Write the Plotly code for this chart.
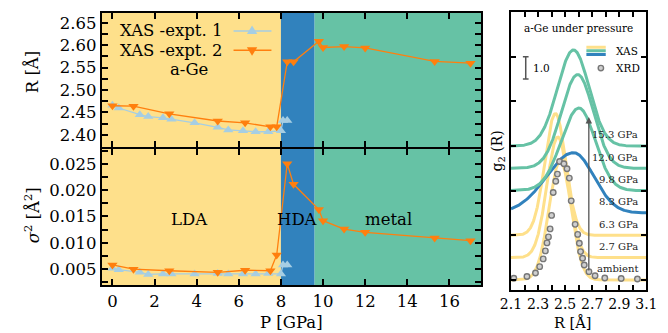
import numpy as np
import plotly.graph_objects as go

FONT = "DejaVu Serif"

# ---------------- left panels: XAS results vs pressure ----------------
p_expt1 = [0.0, 0.3, 1.3, 1.7, 2.4, 2.8, 3.9, 5.0, 5.5, 6.2, 6.8, 7.4, 8.0, 8.1, 8.3]
r_expt1 = [2.466, 2.460, 2.445, 2.441, 2.438, 2.435, 2.427, 2.417, 2.411, 2.409, 2.407, 2.407, 2.409, 2.432, 2.432]
s_expt1 = [0.0052, 0.0049, 0.0044, 0.0040, 0.0041, 0.0041, 0.0041, 0.0042, 0.0041, 0.0041, 0.0041, 0.0042, 0.0041, 0.0058, 0.0058]

p_expt2 = [0.0, 1.0, 2.7, 5.0, 6.3, 7.5, 7.8, 8.3, 8.6, 9.8, 10.0, 11.0, 12.0, 15.3, 17.0]
r_expt2 = [2.465, 2.464, 2.447, 2.431, 2.427, 2.418, 2.418, 2.563, 2.563, 2.609, 2.595, 2.597, 2.594, 2.564, 2.560]
s_expt2 = [0.0058, 0.0050, 0.0047, 0.0044, 0.0048, 0.0047, 0.0077, 0.0250, 0.0211, 0.0163, 0.0142, 0.0126, 0.0120, 0.0109, 0.0104]

phase_edges = [-0.5, 8.0, 9.6, 17.5]
phase_colors = ["#fee08b", "#3182bd", "#66c2a5"]
phase_names = ["LDA", "HDA", "metal"]
phase_label_x = [3.68, 8.8, 13.1]

# ---------------- right panel: g2(R) curves ----------------
curve_labels = ["ambient", "2.7 GPa", "6.3 GPa", "8.3 GPa", "9.8 GPa", "12.0 GPa", "15.3 GPa"]
curve_offsets = [0, 1, 2, 3, 4, 5, 6]
curve_centers = [2.464, 2.446, 2.428, 2.562, 2.602, 2.593, 2.562]
curve_sigma_left = [0.082, 0.080, 0.078, 0.20, 0.13, 0.12, 0.118]
curve_sigma_right = [0.080, 0.078, 0.076, 0.15, 0.12, 0.115, 0.115]
curve_heights = [5.35, 5.4, 5.45, 2.7, 3.7, 4.2, 4.3]
curve_colors = ["#fee08b", "#fee08b", "#fee08b", "#3182bd", "#66c2a5", "#66c2a5", "#66c2a5"]

xrd_r = [2.121, 2.218, 2.281, 2.312, 2.338, 2.354, 2.366, 2.377, 2.389, 2.400, 2.412, 2.431,
         2.443, 2.459, 2.491, 2.514, 2.531, 2.545, 2.574, 2.593, 2.605, 2.614, 2.629, 2.641,
         2.676, 2.721, 2.793, 2.914, 3.034]
xrd_g = [0.076, 0.157, 0.314, 0.596, 0.942, 1.300, 1.659, 1.928, 2.287, 2.892, 3.915, 4.417,
         4.740, 5.305, 5.202, 4.978, 4.561, 3.543, 2.489, 2.040, 1.646, 1.269, 0.973, 0.668,
         0.372, 0.188, 0.090, 0.067, 0.045]

C_EXP1 = "#a6cee3"
C_EXP2 = "#ff7f0e"

fig = go.Figure()

# left traces
for xa, ya, vals1, vals2 in [("x", "y", r_expt1, r_expt2), ("x2", "y2", s_expt1, s_expt2)]:
    fig.add_trace(go.Scatter(x=p_expt1, y=vals1, xaxis=xa, yaxis=ya, mode="lines+markers",
                             line=dict(color=C_EXP1, width=1.3),
                             marker=dict(symbol="triangle-up", size=9, color=C_EXP1),
                             showlegend=False))
    fig.add_trace(go.Scatter(x=p_expt2, y=vals2, xaxis=xa, yaxis=ya, mode="lines+markers",
                             line=dict(color=C_EXP2, width=1.3),
                             marker=dict(symbol="triangle-down", size=9, color=C_EXP2),
                             showlegend=False))

# right curves
rgrid = np.linspace(2.1, 3.1, 500)
for i in range(7):
    c = curve_centers[i]
    sig = np.where(rgrid < c, curve_sigma_left[i], curve_sigma_right[i])
    g = curve_offsets[i] + curve_heights[i] * np.exp(-0.5 * ((rgrid - c) / sig) ** 2)
    fig.add_trace(go.Scatter(x=rgrid, y=g, xaxis="x3", yaxis="y3", mode="lines",
                             line=dict(color=curve_colors[i], width=3), showlegend=False))

fig.add_trace(go.Scatter(x=xrd_r, y=xrd_g, xaxis="x3", yaxis="y3", mode="markers",
                         marker=dict(symbol="circle", size=5.5, color="#cfcfcf",
                                     line=dict(color="#777777", width=1.4)),
                         showlegend=False))

shapes = []
for j in range(3):
    for ya in ["y", "y2"]:
        shapes.append(dict(type="rect", xref="x" if ya == "y" else "x2", yref=ya + " domain",
                           x0=phase_edges[j], x1=phase_edges[j + 1], y0=0, y1=1,
                           fillcolor=phase_colors[j], line=dict(width=0), layer="below"))

# left legend samples
leg_y = [2.632, 2.589]
leg_cols = [C_EXP1, C_EXP2]
leg_paths = ["M-5.2,-3 L5.2,-3 L0,5.5 Z", "M-5.2,3 L5.2,3 L0,-5.5 Z"]
for k in range(2):
    shapes.append(dict(type="line", xref="x", yref="y", x0=5.75, x1=7.55, y0=leg_y[k], y1=leg_y[k],
                       line=dict(color=leg_cols[k], width=1.5)))
    shapes.append(dict(type="path", xref="x", yref="y", xsizemode="pixel", ysizemode="pixel",
                       xanchor=6.63, yanchor=leg_y[k], path=leg_paths[k],
                       fillcolor=leg_cols[k], line=dict(width=0)))

# right legend samples
for yy, col in zip([10.42, 10.27, 10.10], ["#fee08b", "#66c2a5", "#3182bd"]):
    shapes.append(dict(type="line", xref="x3", yref="y3", x0=2.657, x1=2.80, y0=yy, y1=yy,
                       line=dict(color=col, width=3)))
shapes.append(dict(type="circle", xref="x3", yref="y3", xsizemode="pixel", ysizemode="pixel",
                   xanchor=2.764, yanchor=9.49, x0=-2.7, x1=2.7, y0=-2.7, y1=2.7,
                   fillcolor="#cfcfcf", line=dict(color="#777777", width=1.4)))
# scale bar
shapes.append(dict(type="line", xref="x3", yref="y3", x0=2.209, x1=2.209, y0=9.0, y1=10.0,
                   line=dict(color="#555555", width=1.5)))
for yy in [9.0, 10.0]:
    shapes.append(dict(type="line", xref="x3", yref="y3", x0=2.188, x1=2.230, y0=yy, y1=yy,
                       line=dict(color="#555555", width=1.5)))

ann = []
def txt(x, y, s, size, xref="paper", yref="paper", xanchor="center", yanchor="middle", angle=0, color="black"):
    ann.append(dict(x=x, y=y, xref=xref, yref=yref, text=s, showarrow=False, xanchor=xanchor,
                    yanchor=yanchor, textangle=angle, font=dict(family=FONT, size=size, color=color)))

txt(5.3, leg_y[0], "XAS -expt. 1", 16.5, "x", "y", xanchor="right")
txt(5.3, leg_y[1], "XAS -expt. 2", 16.5, "x", "y", xanchor="right")
txt(3.65, 2.545, "a-Ge", 16.5, "x", "y")
for j in range(3):
    txt(phase_label_x[j], 0.0145, phase_names[j], 16.5, "x2", "y2")

txt(22 / 668, 1 - 72 / 333, "R [Å]", 16.5, angle=-90)
txt(22 / 668, 1 - 215 / 333, "<i>σ</i><sup>2</sup> [Å<sup>2</sup>]", 16.5, angle=-90)
txt(290 / 668, 1 - 322 / 333, "P [GPa]", 16.5)
txt(581 / 668, 1 - 322 / 333, "R [Å]", 14.5)
txt(504 / 668, 1 - 151 / 333, "g<sub>2</sub> (R)", 14, angle=-90)

txt(2.6, 11.3, "a-Ge under pressure", 10.5, "x3", "y3")
txt(2.862, 10.24, "XAS", 10.5, "x3", "y3", xanchor="left")
txt(2.862, 9.49, "XRD", 10.5, "x3", "y3", xanchor="left")
txt(2.245, 9.5, "1.0", 10.5, "x3", "y3", xanchor="left")
for i in range(7):
    txt(3.052, curve_offsets[i] + 0.5, curve_labels[i], 10, "x3", "y3", xanchor="right", color="#222222")

ann.append(dict(x=2.675, y=7.3, ax=2.675, ay=0.36, xref="x3", yref="y3", axref="x3", ayref="y3",
                showarrow=True, arrowhead=2, arrowsize=1, arrowwidth=1.3, arrowcolor="#555555", text=""))

axis_common = dict(showline=True, linewidth=2, linecolor="black", mirror="allticks", ticks="inside",
                   tickwidth=1.5, tickcolor="black", showgrid=False, zeroline=False,
                   ticklabeloverflow="allow",
                   tickfont=dict(family=FONT, size=16.5, color="black"))

L0, L1 = 94 / 668, 486 / 668
fig.update_layout(
    width=668, height=333, margin=dict(l=0, r=0, t=0, b=0),
    paper_bgcolor="white", plot_bgcolor="white",
    xaxis=dict(axis_common, domain=[L0, L1], range=[-0.5, 17.5], anchor="y", dtick=2, tick0=0,
               ticklen=6, showticklabels=False),
    yaxis=dict(axis_common, domain=[1 - 147 / 333, 1 - 13 / 333], range=[2.373, 2.672], anchor="x",
               tickvals=[2.40, 2.45, 2.50, 2.55, 2.60, 2.65], tickformat=".2f", ticklen=6,
               minor=dict(dtick=0.025, tick0=2.4, ticks="inside", ticklen=6, tickcolor="black", tickwidth=1.5)),
    xaxis2=dict(axis_common, domain=[L0, L1], range=[-0.5, 17.5], anchor="y2", dtick=2, tick0=0,
                ticklen=6),
    yaxis2=dict(axis_common, domain=[1 - 285 / 333, 1 - 149 / 333], range=[0.002, 0.0278], anchor="x2",
                tickvals=[0.005, 0.010, 0.015, 0.020, 0.025], tickformat=".3f", ticklen=6,
                minor=dict(dtick=0.0025, tick0=0.0, ticks="inside", ticklen=6, tickcolor="black", tickwidth=1.5)),
    xaxis3=dict(axis_common, domain=[517 / 668, 657 / 668], range=[2.1, 3.1], anchor="y3",
                tickvals=[2.1, 2.3, 2.5, 2.7, 2.9, 3.1], tickformat=".1f", ticklen=5,
                tickfont=dict(family=FONT, size=14, color="black"),
                minor=dict(dtick=0.1, tick0=2.1, ticks="inside", ticklen=5, tickcolor="black", tickwidth=1.5)),
    yaxis3=dict(axis_common, domain=[1 - 290 / 333, 1 - 12 / 333], range=[-0.45, 12.0], anchor="x3",
                dtick=2, tick0=0, ticklen=5, showticklabels=False),
    shapes=shapes, annotations=ann,
)

fig.write_html("out.html", config={"displayModeBar": False},
               post_script="document.body.style.margin='0px';")
